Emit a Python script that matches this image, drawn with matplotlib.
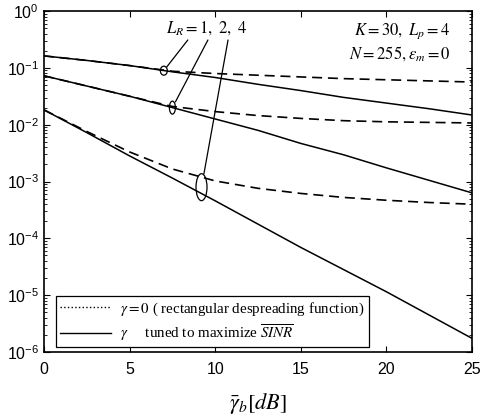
import numpy as np
import matplotlib
matplotlib.use("Agg")
import matplotlib.pyplot as plt
from matplotlib.patches import Ellipse
from matplotlib.lines import Line2D
from matplotlib.transforms import ScaledTranslation

plt.rcParams['font.family'] = ['Liberation Sans', 'DejaVu Sans']
plt.rcParams['mathtext.fontset'] = 'stix'

# ---- data (log10 of BER) ----
snr_db = [0, 2.5, 5, 7.5, 10, 12.5, 15, 17.5, 20, 22.5, 25]

# gamma tuned to maximize SINR (solid)
opt_L1 = [-0.79, -0.87, -0.96, -1.07, -1.17, -1.29, -1.40, -1.52, -1.62, -1.72, -1.83]
opt_L2 = [-1.14, -1.32, -1.50, -1.70, -1.90, -2.10, -2.33, -2.53, -2.76, -2.98, -3.20]
opt_L4 = [-1.74, -2.14, -2.55, -2.94, -3.34, -3.75, -4.16, -4.55, -4.94, -5.35, -5.76]

# gamma = 0, rectangular despreading (dashed)
rect_L1 = [-0.79, -0.87, -0.96, -1.06, -1.10, -1.13, -1.16, -1.19, -1.21, -1.23, -1.25]
rect_L2 = [-1.14, -1.32, -1.50, -1.68, -1.77, -1.84, -1.89, -1.93, -1.95, -1.96, -1.97]
rect_L4 = [-1.74, -2.12, -2.48, -2.78, -2.99, -3.12, -3.21, -3.28, -3.33, -3.37, -3.40]

x_ticks = [0, 5, 10, 15, 20, 25]
y_exps = [0, -1, -2, -3, -4, -5, -6]

# ellipse markers: (x, log10 y, width in, height in)
ELLIPSES = [(7.0, -1.05, 0.07, 0.09), (7.5, -1.70, 0.06, 0.13), (9.2, -3.10, 0.11, 0.27)]
LABEL_ANCHORS = [(0.336, 0.915), (0.383, 0.915), (0.430, 0.915)]

fig = plt.figure(figsize=(4.83, 4.18), dpi=100)
ax = fig.add_axes([44 / 483, 66 / 418, 428 / 483, 341 / 418])

x = np.array(snr_db)
for opt, rect in [(opt_L1, rect_L1), (opt_L2, rect_L2), (opt_L4, rect_L4)]:
    ax.plot(x, 10 ** np.array(opt), color='black', linewidth=1.1, linestyle='-')
    ax.plot(x, 10 ** np.array(rect), color='black', linewidth=1.2, linestyle=(0, (6, 3.5)))

ax.set_yscale('log')
ax.set_xlim(0, 25)
ax.set_ylim(1e-6, 1)
ax.set_xticks(x_ticks)
ax.set_xticklabels([str(t) for t in x_ticks])
ax.set_yticks([10.0 ** e for e in y_exps])
ax.set_yticklabels([r'$\mathregular{10^{%d}}$' % e for e in y_exps])
ax.tick_params(which='both', direction='in', top=True, right=True, labelsize=11.5)
ax.tick_params(which='major', length=4)
ax.tick_params(axis='x', pad=7)
ax.tick_params(which='minor', length=2)
ax.minorticks_on()
ax.xaxis.set_minor_locator(plt.NullLocator())
for s in ax.spines.values():
    s.set_linewidth(1.2)

# ellipses + leader lines
for (ex, ey, w, h), (tx, ty) in zip(ELLIPSES, LABEL_ANCHORS):
    tr = fig.dpi_scale_trans + ScaledTranslation(ex, 10 ** ey, ax.transData)
    ax.add_patch(Ellipse((0, 0), w, h, transform=tr, fill=False, edgecolor='black', linewidth=0.9))
    ax.annotate('', xy=(ex, 10 ** ey), xycoords='data', xytext=(tx, ty), textcoords='axes fraction',
                arrowprops=dict(arrowstyle='-', color='black', linewidth=0.9,
                                shrinkA=0, shrinkB=h * 72 / 2))

ax.text(0.38, 0.95, r'$L_R = \mathrm{1,\ 2,\ 4}$', transform=ax.transAxes,
        ha='center', va='center', fontsize=12)
ax.text(0.95, 0.94, r'$K = \mathrm{30},\ L_p = \mathrm{4}$', transform=ax.transAxes,
        ha='right', va='center', fontsize=12)
ax.text(0.95, 0.875, r'$N = \mathrm{255},\varepsilon_m = \mathrm{0}$', transform=ax.transAxes,
        ha='right', va='center', fontsize=12)

handles = [Line2D([], [], color='black', linestyle=':', linewidth=1.0),
           Line2D([], [], color='black', linestyle='-', linewidth=1.0)]
labels = [r'$\gamma = 0$ ( rectangular despreading function)',
          r'$\gamma$     tuned to maximize $\overline{SINR}$']
leg = ax.legend(handles, labels, loc='lower left', bbox_to_anchor=(0.02, 0.005),
                prop={'family': 'Liberation Serif', 'size': 10.8}, fancybox=False,
                edgecolor='black', framealpha=1, handlelength=3.4, handletextpad=0.6,
                borderpad=0.3, labelspacing=0.3, borderaxespad=0.2)
leg.get_frame().set_linewidth(0.9)

ax.set_xlabel(r'$\bar{\gamma}_{b}[dB]$', fontsize=16, labelpad=10)

fig.savefig('out.png', dpi=100)
